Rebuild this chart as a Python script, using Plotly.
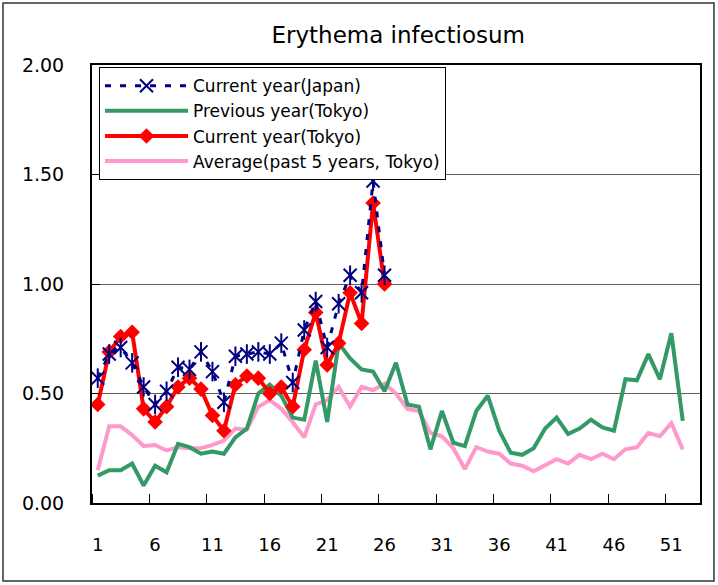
import plotly.graph_objects as go

weeks52 = list(range(1, 53))
weeks_cur = list(range(1, 27))

japan_current = [0.57, 0.68, 0.71, 0.64, 0.53, 0.45, 0.51, 0.62, 0.61, 0.69, 0.60, 0.46, 0.67,
                 0.68, 0.69, 0.68, 0.73, 0.55, 0.79, 0.92, 0.71, 0.91, 1.04, 0.96, 1.47, 1.04]
tokyo_current = [0.45, 0.69, 0.76, 0.78, 0.43, 0.37, 0.44, 0.53, 0.57, 0.52, 0.40, 0.33, 0.54,
                 0.58, 0.57, 0.50, 0.53, 0.44, 0.70, 0.87, 0.63, 0.73, 0.96, 0.82, 1.37, 1.00]
tokyo_previous = [0.125, 0.15, 0.15, 0.18, 0.08, 0.17, 0.14, 0.27, 0.255, 0.225, 0.235, 0.225, 0.30,
                  0.34, 0.50, 0.54, 0.49, 0.39, 0.38, 0.65, 0.37, 0.73, 0.66, 0.61, 0.60, 0.51,
                  0.64, 0.45, 0.44, 0.245, 0.42, 0.275, 0.26, 0.42, 0.49, 0.33, 0.23, 0.22, 0.25,
                  0.34, 0.39, 0.315, 0.34, 0.38, 0.345, 0.33, 0.565, 0.56, 0.68, 0.565, 0.775, 0.375]
tokyo_average = [0.15, 0.35, 0.35, 0.31, 0.26, 0.265, 0.24, 0.255, 0.25, 0.25, 0.265, 0.285, 0.34,
                 0.335, 0.44, 0.47, 0.43, 0.37, 0.30, 0.45, 0.47, 0.53, 0.44, 0.53, 0.515, 0.545,
                 0.50, 0.43, 0.42, 0.32, 0.305, 0.25, 0.155, 0.255, 0.235, 0.225, 0.18, 0.17, 0.145,
                 0.17, 0.20, 0.18, 0.22, 0.20, 0.225, 0.20, 0.245, 0.255, 0.32, 0.305, 0.365, 0.245]

x_tick_vals = [1, 6, 11, 16, 21, 26, 31, 36, 41, 46, 51]
x_tick_text = [str(v) for v in x_tick_vals]
y_tick_vals = [0, 0.5, 1.0, 1.5, 2.0]
y_tick_text = ["0.00", "0.50", "1.00", "1.50", "2.00"]

FONT = "DejaVu Sans"
NAVY = "#000080"

fig = go.Figure()

fig.add_trace(go.Scatter(
    x=weeks52, y=tokyo_average, mode="lines", name="Average(past 5 years, Tokyo)",
    line=dict(color="#FF99CC", width=4), legendrank=4))
fig.add_trace(go.Scatter(
    x=weeks52, y=tokyo_previous, mode="lines", name="Previous year(Tokyo)",
    line=dict(color="#339966", width=4), legendrank=2))
fig.add_trace(go.Scatter(
    x=weeks_cur, y=tokyo_current, mode="lines+markers", name="Current year(Tokyo)",
    line=dict(color="#FF0000", width=4),
    marker=dict(symbol="diamond", size=12, color="#FF0000"), legendrank=3))
fig.add_trace(go.Scatter(
    x=weeks_cur, y=japan_current, mode="lines+markers", name="Current year(Japan)",
    line=dict(color=NAVY, width=3, dash="6px,9px"),
    marker=dict(symbol="x-thin-open", size=13, color=NAVY, line=dict(color=NAVY, width=2)),
    legendrank=1))
fig.add_trace(go.Scatter(
    x=weeks_cur, y=japan_current, mode="markers", showlegend=False, hoverinfo="skip",
    marker=dict(symbol="line-ns-open", size=14, color=NAVY, line=dict(color=NAVY, width=2))))

fig.update_layout(
    width=718, height=585,
    margin=dict(l=92, r=18, t=65, b=82),
    paper_bgcolor="white", plot_bgcolor="white",
    font=dict(family=FONT, size=18, color="#000000"),
    title=dict(text="Erythema infectiosum", x=0.5546, xanchor="center", y=0.94, yanchor="middle",
               font=dict(family=FONT, size=23, color="#000000")),
    legend=dict(x=0.0115, y=0.995, xanchor="left", yanchor="top",
                bgcolor="white", bordercolor="#000000", borderwidth=1,
                font=dict(family=FONT, size=17, color="#000000"),
                tracegroupgap=0, itemwidth=83),
    showlegend=True,
)

fig.update_xaxes(
    range=[0.5, 53.5], tickmode="array", tickvals=x_tick_vals, ticktext=x_tick_text,
    ticks="", showgrid=False, zeroline=False,
    showline=True, linecolor="#000000", linewidth=2, mirror=True,
    tickfont=dict(family=FONT, size=18, color="#000000"), ticklabelstandoff=24,
    minor=dict(tickmode="linear", tick0=0.5, dtick=5, ticks="inside", ticklen=9,
               tickcolor="#000000", tickwidth=1, showgrid=False),
)
fig.update_yaxes(
    range=[0, 2], tickmode="array", tickvals=y_tick_vals, ticktext=y_tick_text,
    ticks="inside", ticklen=8, tickcolor="#000000",
    showgrid=True, gridcolor="#606060", gridwidth=1.2, zeroline=False,
    showline=True, linecolor="#000000", linewidth=2, mirror=True,
    tickfont=dict(family=FONT, size=19, color="#000000"), ticklabelstandoff=22,
)

fig.add_shape(type="rect", xref="paper", yref="paper",
              x0=-0.1464, x1=1.023, y0=-0.178, y1=1.1416,
              line=dict(color="#333333", width=1.5), layer="below")

fig.write_html("out.html", config={"displayModeBar": False},
               post_script="document.body.style.margin='0';document.documentElement.style.margin='0';")
